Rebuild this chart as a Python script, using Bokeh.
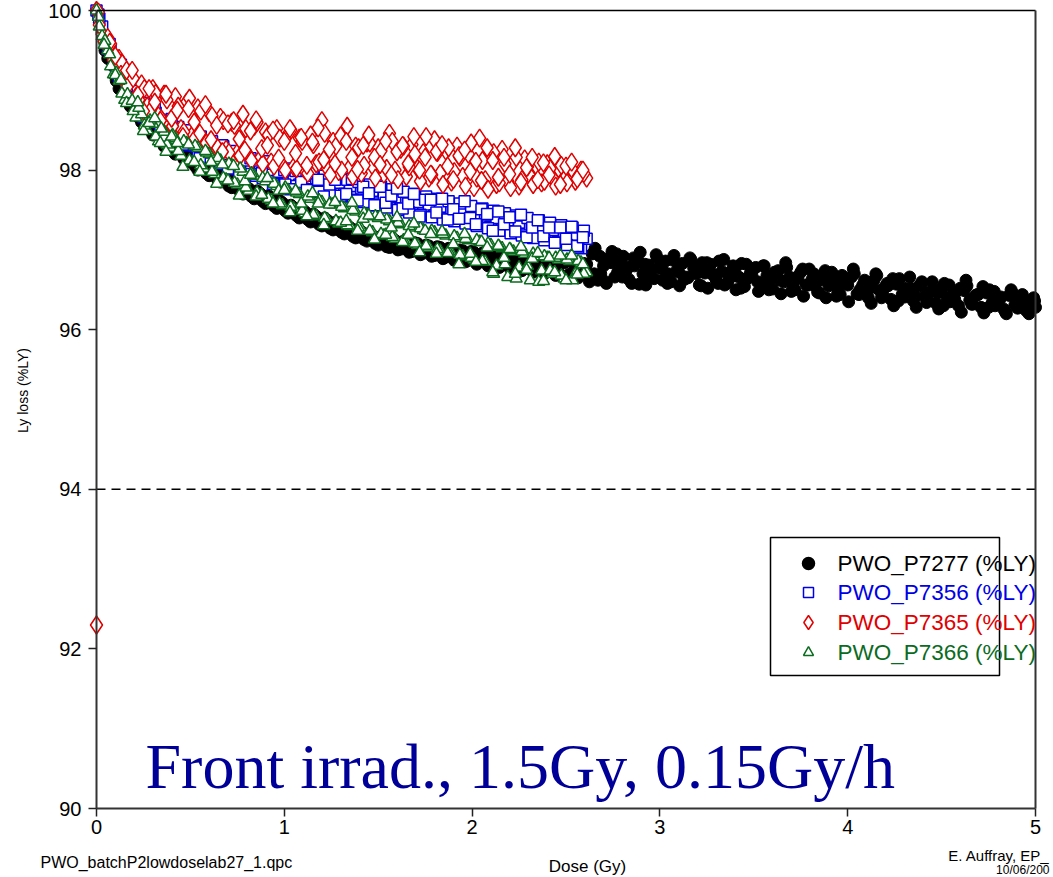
import math
from bokeh.plotting import figure
from bokeh.models import Range1d, FixedTicker, Label, LinearAxis
from bokeh.embed import file_html
from bokeh.resources import INLINE

# ---------------- data ----------------
# readings taken at interleaved sets of dose values
dose = [0.00, 0.03, 0.06, 0.09, 0.12, 0.15, 0.18, 0.21, 0.24, 0.27,
        0.30, 0.33, 0.36, 0.39, 0.42, 0.45, 0.48, 0.51, 0.54, 0.57,
        0.60, 0.63, 0.66, 0.69, 0.72, 0.75, 0.78, 0.81, 0.84, 0.87,
        0.90, 0.93, 0.96, 0.99, 1.02, 1.05, 1.08, 1.11, 1.14, 1.17,
        1.20, 1.23, 1.26, 1.29, 1.32, 1.35, 1.38, 1.41, 1.44, 1.47,
        1.50, 1.53, 1.56, 1.59, 1.62, 1.65, 1.68, 1.71, 1.74, 1.77,
        1.80, 1.83, 1.86, 1.89, 1.92, 1.95, 1.98, 2.01, 2.04, 2.07,
        2.10, 2.13, 2.16, 2.19, 2.22, 2.25, 2.28, 2.31, 2.34, 2.37,
        2.40, 2.43, 2.46, 2.49, 2.52, 2.55, 2.58, 2.61, 2.64, 2.67,
        2.70, 2.73, 2.76, 2.79, 2.82, 2.85, 2.88, 2.91, 2.94, 2.97,
        3.00, 3.03, 3.06, 3.09, 3.12, 3.15, 3.18, 3.21, 3.24, 3.27,
        3.30, 3.33, 3.36, 3.39, 3.42, 3.45, 3.48, 3.51, 3.54, 3.57,
        3.60, 3.63, 3.66, 3.69, 3.72, 3.75, 3.78, 3.81, 3.84, 3.87,
        3.90, 3.93, 3.96, 3.99, 4.02, 4.05, 4.08, 4.11, 4.14, 4.17,
        4.20, 4.23, 4.26, 4.29, 4.32, 4.35, 4.38, 4.41, 4.44, 4.47,
        4.50, 4.53, 4.56, 4.59, 4.62, 4.65, 4.68, 4.71, 4.74, 4.77,
        4.80, 4.83, 4.86, 4.89, 4.92, 4.95, 4.98, 5.00]

dose_b = [0.015, 0.045, 0.075, 0.105, 0.135, 0.165, 0.195, 0.225, 0.255, 0.285,
          0.315, 0.345, 0.375, 0.405, 0.435, 0.465, 0.495, 0.525, 0.555, 0.585,
          0.615, 0.645, 0.675, 0.705, 0.735, 0.765, 0.795, 0.825, 0.855, 0.885,
          0.915, 0.945, 0.975, 1.005, 1.035, 1.065, 1.095, 1.125, 1.155, 1.185,
          1.215, 1.245, 1.275, 1.305, 1.335, 1.365, 1.395, 1.425, 1.455, 1.485,
          1.515, 1.545, 1.575, 1.605, 1.635, 1.665, 1.695, 1.725, 1.755, 1.785,
          1.815, 1.845, 1.875, 1.905, 1.935, 1.965, 1.995, 2.025, 2.055, 2.085,
          2.115, 2.145, 2.175, 2.205, 2.235, 2.265, 2.295, 2.325, 2.355, 2.385,
          2.415, 2.445, 2.475, 2.505, 2.535, 2.565, 2.595, 2.625, 2.655, 2.685,
          2.715, 2.745, 2.775, 2.805, 2.835, 2.865, 2.895, 2.925, 2.955, 2.985,
          3.015, 3.045, 3.075, 3.105, 3.135, 3.165, 3.195, 3.225, 3.255, 3.285,
          3.315, 3.345, 3.375, 3.405, 3.435, 3.465, 3.495, 3.525, 3.555, 3.585,
          3.615, 3.645, 3.675, 3.705, 3.735, 3.765, 3.795, 3.825, 3.855, 3.885,
          3.915, 3.945, 3.975, 4.005, 4.035, 4.065, 4.095, 4.125, 4.155, 4.185,
          4.215, 4.245, 4.275, 4.305, 4.335, 4.365, 4.395, 4.425, 4.455, 4.485,
          4.515, 4.545, 4.575, 4.605, 4.635, 4.665, 4.695, 4.725, 4.755, 4.785,
          4.815, 4.845, 4.875, 4.905, 4.935, 4.965, 4.995]

dose_c = [0.01, 0.04, 0.07, 0.10, 0.13, 0.16, 0.19, 0.22, 0.25, 0.28,
          0.31, 0.34, 0.37, 0.40, 0.43, 0.46, 0.49, 0.52, 0.55, 0.58,
          0.61, 0.64, 0.67, 0.70, 0.73, 0.76, 0.79, 0.82, 0.85, 0.88,
          0.91, 0.94, 0.97, 1.00, 1.03, 1.06, 1.09, 1.12, 1.15, 1.18,
          1.21, 1.24, 1.27, 1.30, 1.33, 1.36, 1.39, 1.42, 1.45, 1.48,
          1.51, 1.54, 1.57, 1.60, 1.63, 1.66, 1.69, 1.72, 1.75, 1.78,
          1.81, 1.84, 1.87, 1.90, 1.93, 1.96, 1.99, 2.02, 2.05, 2.08,
          2.11, 2.14, 2.17, 2.20, 2.23, 2.26, 2.29, 2.32, 2.35, 2.38,
          2.41, 2.44, 2.47, 2.50, 2.53, 2.56, 2.59]

dose_d = [2.65, 2.68, 2.71, 2.74, 2.77, 2.80, 2.83, 2.86, 2.89, 2.92,
          2.95, 2.98, 3.01, 3.04, 3.07, 3.10, 3.13, 3.16, 3.19, 3.22,
          3.25, 3.28, 3.31, 3.34, 3.37, 3.40, 3.43, 3.46, 3.49, 3.52,
          3.55, 3.58, 3.61, 3.64, 3.67, 3.70, 3.73, 3.76, 3.79, 3.82,
          3.85, 3.88, 3.91, 3.94, 3.97, 4.00, 4.03, 4.06, 4.09, 4.12,
          4.15, 4.18, 4.21, 4.24, 4.27, 4.30, 4.33, 4.36, 4.39, 4.42,
          4.45, 4.48, 4.51, 4.54, 4.57, 4.60, 4.63, 4.66, 4.69, 4.72,
          4.75, 4.78, 4.81, 4.84, 4.87, 4.90, 4.93, 4.96, 4.99]

p7277 = [100.00, 99.72, 99.40, 99.30, 99.02, 98.99, 98.80, 98.82, 98.60, 98.63,
         98.44, 98.48, 98.30, 98.36, 98.20, 98.27, 98.10, 98.15, 98.00, 98.08,
         97.93, 97.99, 97.85, 97.92, 97.78, 97.84, 97.70, 97.77, 97.64, 97.71,
         97.58, 97.65, 97.52, 97.59, 97.46, 97.53, 97.40, 97.48, 97.35, 97.42,
         97.30, 97.37, 97.25, 97.32, 97.20, 97.28, 97.15, 97.23, 97.11, 97.18,
         97.06, 97.15, 97.03, 97.12, 97.01, 97.10, 96.98, 97.08, 96.96, 97.05,
         96.93, 97.03, 96.91, 97.01, 96.89, 96.99, 96.87, 96.97, 96.85, 96.95,
         96.83, 96.93, 96.81, 96.91, 96.79, 96.89, 96.77, 96.88, 96.76, 96.86,
         96.74, 96.85, 96.72, 96.84, 96.70, 96.83, 96.69, 96.82, 96.95, 96.62,
         96.80, 96.90, 96.66, 96.85, 96.74, 96.58, 96.88, 96.70, 96.81, 96.64,
         96.78, 96.86, 96.60, 96.74, 96.83, 96.65, 96.77, 96.56, 96.71, 96.82,
         96.62, 96.73, 96.59, 96.80, 96.66, 96.54, 96.70, 96.78, 96.57, 96.68,
         96.51, 96.74, 96.60, 96.66, 96.50, 96.72, 96.56, 96.63, 96.47, 96.69,
         96.55, 96.61, 96.44, 96.58, 96.66, 96.45, 96.56, 96.40, 96.62, 96.49,
         96.54, 96.38, 96.57, 96.44, 96.51, 96.36, 96.55, 96.42, 96.48, 96.33,
         96.52, 96.40, 96.45, 96.30, 96.49, 96.37, 96.43, 96.28, 96.46, 96.34,
         96.40, 96.26, 96.43, 96.31, 96.37, 96.24, 96.33, 96.28]
p7277_b = [99.85, 99.50, 99.38, 99.12, 99.05, 98.86, 98.85, 98.66, 98.62, 98.50,
           98.50, 98.36, 98.38, 98.24, 98.28, 98.14, 98.18, 98.05, 98.10, 97.96,
           98.02, 97.88, 97.94, 97.80, 97.87, 97.73, 97.80, 97.67, 97.74, 97.61,
           97.68, 97.55, 97.62, 97.49, 97.56, 97.43, 97.51, 97.38, 97.45, 97.32,
           97.40, 97.27, 97.35, 97.22, 97.30, 97.17, 97.26, 97.13, 97.21, 97.08,
           97.17, 97.04, 97.14, 97.00, 97.11, 96.97, 97.09, 96.94, 97.06, 96.92,
           97.04, 96.89, 97.02, 96.87, 97.00, 96.85, 96.98, 96.82, 96.96, 96.80,
           96.94, 96.78, 96.92, 96.76, 96.90, 96.74, 96.89, 96.72, 96.87, 96.70,
           96.86, 96.68, 96.85, 96.66, 96.84, 96.65, 96.83, 96.60, 97.02, 96.70,
           96.58, 96.98, 96.72, 96.92, 96.63, 96.80, 96.97, 96.56, 96.75, 96.90,
           96.62, 96.70, 96.93, 96.55, 96.66, 96.88, 96.70, 96.84, 96.52, 96.68,
           96.86, 96.56, 96.72, 96.50, 96.83, 96.64, 96.76, 96.48, 96.80, 96.62,
           96.70, 96.45, 96.78, 96.58, 96.64, 96.42, 96.76, 96.55, 96.62, 96.40,
           96.72, 96.52, 96.60, 96.35, 96.70, 96.50, 96.58, 96.33, 96.68, 96.46,
           96.55, 96.30, 96.64, 96.41, 96.52, 96.28, 96.60, 96.38, 96.50, 96.26,
           96.58, 96.35, 96.47, 96.22, 96.55, 96.32, 96.44, 96.21, 96.50, 96.30,
           96.41, 96.20, 96.47, 96.27, 96.38, 96.20, 96.36]
p7277_d = [96.70, 96.92, 96.60, 96.84, 96.95, 96.66, 96.78, 96.90, 96.57, 96.82,
           96.68, 96.94, 96.76, 96.58, 96.87, 96.72, 96.63, 96.90, 96.80, 96.55,
           96.84, 96.70, 96.58, 96.88, 96.64, 96.76, 96.52, 96.82, 96.68, 96.60,
           96.80, 96.50, 96.72, 96.62, 96.84, 96.48, 96.66, 96.76, 96.56, 96.70,
           96.46, 96.74, 96.60, 96.42, 96.68, 96.56, 96.76, 96.44, 96.62, 96.52,
           96.70, 96.40, 96.58, 96.64, 96.36, 96.52, 96.66, 96.42, 96.56, 96.34,
           96.60, 96.46, 96.30, 96.56, 96.38, 96.52, 96.62, 96.32, 96.44, 96.54,
           96.28, 96.48, 96.38, 96.22, 96.50, 96.34, 96.44, 96.24, 96.40]

p7356 = [100.00, 99.80, 99.52, 99.42, 99.18, 99.14, 98.94, 98.92, 98.75, 98.76,
         98.60, 98.64, 98.50, 98.54, 98.40, 98.45, 98.31, 98.38, 98.24, 98.30,
         98.16, 98.24, 98.08, 98.18, 98.02, 98.12, 97.97, 98.07, 97.93, 98.03,
         97.90, 98.00, 97.86, 97.97, 97.84, 97.94, 97.82, 97.91, 97.79, 97.89,
         97.76, 97.87, 97.73, 97.84, 97.70, 97.80, 97.66, 97.77, 97.62, 97.74,
         97.58, 97.70, 97.55, 97.66, 97.52, 97.63, 97.49, 97.60, 97.46, 97.57,
         97.43, 97.54, 97.40, 97.51, 97.37, 97.48, 97.34, 97.46, 97.32, 97.43,
         97.29, 97.40, 97.26, 97.37, 97.23, 97.34, 97.20, 97.31, 97.17, 97.28,
         97.14, 97.25, 97.10, 97.22, 97.07, 97.19, 97.02, 97.14]
p7356_b = [99.90, 99.62, 99.50, 99.26, 99.22, 98.98, 99.02, 98.80, 98.84, 98.66,
           98.72, 98.56, 98.62, 98.46, 98.54, 98.38, 98.47, 98.30, 98.42, 98.22,
           98.36, 98.14, 98.30, 98.06, 98.24, 98.00, 98.18, 97.95, 98.12, 97.90,
           98.08, 97.86, 98.04, 97.82, 98.02, 97.80, 97.98, 97.76, 97.96, 97.73,
           97.93, 97.70, 97.90, 97.67, 97.88, 97.63, 97.85, 97.60, 97.82, 97.56,
           97.79, 97.53, 97.76, 97.50, 97.73, 97.47, 97.70, 97.44, 97.67, 97.41,
           97.64, 97.38, 97.61, 97.36, 97.58, 97.33, 97.55, 97.30, 97.52, 97.27,
           97.49, 97.24, 97.46, 97.21, 97.43, 97.18, 97.40, 97.15, 97.37, 97.12,
           97.34, 97.09, 97.31, 97.06, 97.28, 97.03, 97.24]
p7356_c = [99.95, 99.67, 99.58, 99.32, 99.32, 99.00, 99.05, 98.99, 98.67, 98.75,
           98.78, 98.54, 98.43, 98.64, 98.49, 98.32, 98.50, 98.31, 98.15, 98.33,
           98.32, 98.13, 98.31, 98.02, 98.12, 97.92, 98.12, 98.15, 97.93, 97.96,
           98.11, 97.83, 97.98, 98.00, 97.76, 97.99, 97.85, 97.75, 97.96, 97.88,
           97.67, 97.82, 97.88, 97.68, 97.70, 97.89, 97.62, 97.79, 97.71, 97.56,
           97.79, 97.59, 97.68, 97.77, 97.52, 97.58, 97.70, 97.42, 97.63, 97.63,
           97.47, 97.64, 97.38, 97.51, 97.39, 97.61, 97.40, 97.32, 97.51, 97.45,
           97.24, 97.48, 97.32, 97.41, 97.23, 97.44, 97.16, 97.28, 97.37, 97.17,
           97.28, 97.09, 97.28, 97.14, 97.29, 97.05, 97.16]

p7365 = [100.00, 99.70, 99.66, 99.38, 99.40, 99.10, 99.22, 98.92, 99.08, 98.80,
         99.02, 98.68, 98.95, 98.58, 98.92, 98.52, 98.85, 98.44, 98.78, 98.36,
         98.72, 98.30, 98.66, 98.26, 98.60, 98.22, 98.70, 98.18, 98.55, 98.14,
         98.48, 98.10, 98.52, 98.06, 98.45, 98.04, 98.40, 98.00, 98.44, 98.08,
         98.62, 98.02, 98.36, 97.98, 98.40, 98.04, 98.30, 97.96, 98.34, 98.05,
         98.28, 97.95, 98.46, 98.00, 98.26, 97.92, 98.32, 98.02, 98.22, 97.90,
         98.38, 97.96, 98.24, 97.85, 98.30, 97.92, 98.20, 97.78, 98.40, 97.88,
         98.18, 97.82, 98.26, 97.86, 98.10, 97.80, 98.14, 97.92, 98.06, 97.84,
         98.08, 97.90, 98.02, 97.88, 98.04, 97.86, 98.00, 97.90]
p7365_b = [99.82, 99.60, 99.58, 99.30, 99.34, 99.05, 99.15, 98.88, 99.02, 98.74,
           98.96, 98.64, 98.88, 98.55, 98.80, 98.48, 98.90, 98.40, 98.74, 98.34,
           98.68, 98.28, 98.62, 98.22, 98.56, 98.18, 98.52, 98.12, 98.60, 98.08,
           98.44, 98.05, 98.40, 98.00, 98.50, 98.02, 98.36, 97.96, 98.32, 98.10,
           98.46, 97.94, 98.30, 98.00, 98.55, 97.92, 98.28, 98.06, 98.34, 97.90,
           98.24, 98.02, 98.36, 97.88, 98.30, 98.04, 98.20, 97.86, 98.42, 97.94,
           98.22, 97.82, 98.28, 97.98, 98.16, 97.80, 98.34, 97.90, 98.12, 97.76,
           98.22, 97.84, 98.08, 97.78, 98.16, 97.88, 98.04, 97.82, 98.10, 97.86,
           98.02, 97.80, 98.06, 97.84, 98.00, 97.92, 97.96]
p7365_c = [99.98, 99.61, 99.60, 99.43, 99.20, 99.25, 99.25, 98.94, 98.74, 99.02,
           98.85, 98.62, 98.95, 98.65, 98.75, 98.42, 98.77, 98.60, 98.46, 98.82,
           98.38, 98.56, 98.23, 98.58, 98.62, 98.39, 98.25, 98.49, 98.63, 98.27,
           98.31, 98.50, 98.15, 98.36, 98.52, 98.21, 98.41, 98.06, 98.35, 98.53,
           98.13, 98.26, 98.08, 98.43, 98.36, 98.16, 98.01, 98.31, 98.44, 98.16,
           98.07, 98.36, 97.94, 98.23, 98.31, 98.08, 98.42, 98.00, 98.16, 97.95,
           98.23, 98.32, 98.05, 97.88, 98.18, 98.25, 97.98, 98.11, 97.87, 98.28,
           98.12, 97.91, 98.16, 97.95, 98.28, 97.85, 98.03, 98.16, 97.88, 98.09,
           97.94, 98.17, 97.82, 98.05, 98.10, 97.89, 98.00]
p7365_extra_dose = [0.00]
p7365_extra = [92.30]

p7366 = [100.00, 99.68, 99.50, 99.20, 99.12, 98.88, 98.86, 98.66, 98.70, 98.50,
         98.58, 98.36, 98.48, 98.28, 98.40, 98.18, 98.34, 98.10, 98.28, 98.02,
         98.20, 97.95, 98.12, 97.88, 98.06, 97.82, 97.98, 97.74, 97.93, 97.68,
         97.86, 97.62, 97.80, 97.56, 97.75, 97.52, 97.70, 97.46, 97.64, 97.42,
         97.60, 97.38, 97.57, 97.33, 97.52, 97.30, 97.48, 97.26, 97.44, 97.22,
         97.40, 97.18, 97.36, 97.14, 97.32, 97.10, 97.28, 97.06, 97.25, 97.03,
         97.22, 96.99, 97.18, 96.96, 97.15, 96.92, 97.12, 96.88, 97.10, 96.85,
         97.06, 96.80, 97.02, 96.66, 96.98, 96.78, 96.95, 96.62, 96.92, 96.74,
         96.90, 96.70, 96.88, 96.64, 96.86, 96.70, 96.84, 96.72]
p7366_b = [99.80, 99.62, 99.30, 99.22, 98.96, 98.95, 98.74, 98.78, 98.56, 98.62,
           98.42, 98.52, 98.32, 98.44, 98.24, 98.36, 98.12, 98.30, 98.06, 98.22,
           97.98, 98.15, 97.90, 98.08, 97.84, 98.02, 97.78, 97.96, 97.72, 97.90,
           97.64, 97.83, 97.58, 97.78, 97.54, 97.72, 97.49, 97.67, 97.44, 97.62,
           97.40, 97.58, 97.36, 97.54, 97.31, 97.50, 97.28, 97.46, 97.24, 97.42,
           97.20, 97.38, 97.16, 97.34, 97.12, 97.30, 97.08, 97.27, 97.05, 97.24,
           97.01, 97.20, 96.98, 97.17, 96.94, 97.14, 96.90, 97.12, 96.86, 97.08,
           96.70, 97.04, 96.82, 97.00, 96.64, 96.98, 96.80, 96.95, 96.60, 96.92,
           96.74, 96.90, 96.68, 96.88, 96.62, 96.86, 96.70]
p7366_c = [99.92, 99.57, 99.45, 99.19, 99.13, 98.84, 98.87, 98.85, 98.49, 98.59,
           98.65, 98.34, 98.23, 98.42, 98.34, 98.04, 98.32, 98.10, 97.98, 98.24,
           98.10, 97.83, 98.07, 97.87, 98.05, 97.68, 97.86, 97.94, 97.67, 97.69,
           97.90, 97.58, 97.74, 97.75, 97.47, 97.74, 97.58, 97.42, 97.71, 97.58,
           97.31, 97.57, 97.60, 97.34, 97.36, 97.59, 97.24, 97.39, 97.43, 97.13,
           97.42, 97.19, 97.28, 97.41, 97.10, 97.19, 97.33, 96.97, 97.24, 97.20,
           96.95, 97.23, 96.96, 97.07, 96.82, 97.20, 96.95, 96.85, 97.10, 97.03,
           96.72, 97.05, 96.90, 97.01, 96.70, 97.04, 96.75, 96.89, 96.96, 96.61,
           96.90, 96.72, 96.93, 96.62, 96.93, 96.69, 96.82]

series_names = ["PWO_P7277 (%LY)", "PWO_P7356 (%LY)", "PWO_P7365 (%LY)", "PWO_P7366 (%LY)"]
x_ticks = [0, 1, 2, 3, 4, 5]
y_ticks = [90, 92, 94, 96, 98, 100]
threshold = 94
title_text = "Front irrad., 1.5Gy, 0.15Gy/h"
file_text = "PWO_batchP2lowdoselab27_1.qpc"
author_lines = ["E. Auffray, EP_", "10/06/200"]
y_label = "Ly loss (%LY)"
x_label = "Dose (Gy)"

# ---------------- layout / styles ----------------
BLACK = "#000000"
BLUE = "#0000e6"
RED = "#e00000"
GREEN = "#0b6b1e"
NAVY = "#000099"
FONT = "Liberation Sans"

W, H = 1053, 877
X0_PX, X5_PX = 96, 1035       # pixel columns of dose 0 and 5
Y100_PX, Y90_PX = 10, 808     # pixel rows of 100 % and 90 %
px_x = (X5_PX - X0_PX) / (x_ticks[-1] - x_ticks[0])
px_y = (Y90_PX - Y100_PX) / (y_ticks[-1] - y_ticks[0])


def dx(px):
    return x_ticks[0] + (px - X0_PX) / px_x


def dy(py):
    return y_ticks[-1] - (py - Y100_PX) / px_y


# the frame covers the whole canvas, so nothing around the axes is clipped
p = figure(width=W, height=H, output_backend="svg", toolbar_location=None,
           x_range=Range1d(dx(0), dx(W)), y_range=Range1d(dy(H), dy(0)),
           min_border=0, min_border_left=0, min_border_right=0,
           min_border_top=0, min_border_bottom=0)
p.background_fill_color = "white"
p.border_fill_color = "white"
p.outline_line_color = None
p.xgrid.visible = False
p.ygrid.visible = False


def style_axis(ax, show_labels=True):
    ax.axis_line_color = "#333333"
    ax.axis_line_width = 2
    ax.minor_tick_line_color = None
    if show_labels:
        ax.major_tick_line_color = "#222222"
        ax.major_tick_line_width = 1.5
        ax.major_tick_out = 8
        ax.major_tick_in = 0
        ax.major_label_text_font = FONT
        ax.major_label_text_font_size = "20px"
        ax.major_label_text_color = "black"
    else:
        ax.major_tick_line_color = None
        ax.major_label_text_color = None
        ax.major_label_text_font_size = "1px"


xa = p.xaxis[0]
ya = p.yaxis[0]
xa.ticker = FixedTicker(ticks=x_ticks)
ya.ticker = FixedTicker(ticks=y_ticks)
xa.fixed_location = y_ticks[0]
ya.fixed_location = x_ticks[0]
xa.bounds = (x_ticks[0], x_ticks[-1])
ya.bounds = (y_ticks[0], y_ticks[-1])
style_axis(xa)
style_axis(ya)
xa.major_label_standoff = 3
ya.major_label_standoff = 7

# frame lines on top and right (axes without ticks)
top_ax = LinearAxis(fixed_location=y_ticks[-1], bounds=(x_ticks[0], x_ticks[-1]),
                    ticker=FixedTicker(ticks=x_ticks))
right_ax = LinearAxis(fixed_location=x_ticks[-1], bounds=(y_ticks[0], y_ticks[-1]),
                      ticker=FixedTicker(ticks=y_ticks))
style_axis(top_ax, False)
style_axis(right_ax, False)
top_ax.axis_line_color = "black"
top_ax.axis_line_width = 1.5
p.add_layout(top_ax, "above")
p.add_layout(right_ax, "right")

# threshold dashed line across the plotting area
p.segment(x0=[x_ticks[0]], x1=[x_ticks[-1]], y0=[threshold], y1=[threshold],
          line_color="black", line_width=1.5, line_dash="9 6")

# data series (black first, then blue, red, green on top)
na, nb, nc = len(p7356), len(p7356_b), len(p7356_c)
xs_col = dose[:na] + dose_b[:nb] + dose_c[:nc]
p.scatter(dose + dose_b + dose_d, p7277 + p7277_b + p7277_d, marker="circle", size=12,
          fill_color=BLACK, line_color=BLACK)
p.scatter(xs_col, p7356 + p7356_b + p7356_c, marker="square", size=11,
          fill_color="white", line_color=BLUE, line_width=1.5)
p.scatter(xs_col + p7365_extra_dose, p7365 + p7365_b + p7365_c + p7365_extra,
          marker="diamond", size=18, fill_color="white", line_color=RED, line_width=1.5)
p.scatter(xs_col, p7366 + p7366_b + p7366_c, marker="triangle", size=12,
          fill_color="white", line_color=GREEN, line_width=1.5)

# legend (manual, coloured labels)
p.quad(left=[dx(770)], right=[dx(999)], top=[dy(537)], bottom=[dy(675)],
       fill_color="white", line_color="black", line_width=1.5)
leg_rows = [563, 592, 622, 652]
leg_styles = [("circle", BLACK, BLACK, 12), ("square", "white", BLUE, 10),
              ("diamond", "white", RED, 14), ("triangle", "white", GREEN, 10)]
leg_colors = [BLACK, BLUE, RED, GREEN]
for name, row, (mk, fc, lc, sz), tc in zip(series_names, leg_rows, leg_styles, leg_colors):
    p.scatter([dx(808)], [dy(row)], marker=mk, size=sz, fill_color=fc,
              line_color=lc, line_width=1.5)
    p.add_layout(Label(x=dx(837), y=dy(row), text=name, text_font=FONT,
                       text_font_size="22.5px", text_color=tc,
                       text_baseline="middle", text_align="left"))

# big title inside plot
p.add_layout(Label(x=dx(145), y=dy(766), text=title_text, text_font="Liberation Serif",
                   text_font_size="64px", text_color=NAVY, text_baseline="middle",
                   text_align="left"))

# axis titles
p.add_layout(Label(x=dx(587), y=dy(866), text=x_label, text_font=FONT,
                   text_font_size="17px", text_color="black",
                   text_baseline="middle", text_align="center"))
p.add_layout(Label(x=dx(22), y=dy(390), text=y_label, text_font=FONT,
                   text_font_size="14px", text_color="black",
                   text_baseline="middle", text_align="center", angle=math.pi / 2))

# footer texts
p.add_layout(Label(x=dx(40), y=dy(862), text=file_text, text_font=FONT,
                   text_font_size="16px", text_color="black", text_baseline="middle"))
p.add_layout(Label(x=dx(1049), y=dy(855), text=author_lines[0], text_font=FONT,
                   text_font_size="15px", text_color="black", text_baseline="middle",
                   text_align="right"))
p.add_layout(Label(x=dx(1049), y=dy(869), text=author_lines[1], text_font=FONT,
                   text_font_size="12px", text_color="black", text_baseline="middle",
                   text_align="right"))

open("out.html", "w").write(file_html(p, INLINE))
